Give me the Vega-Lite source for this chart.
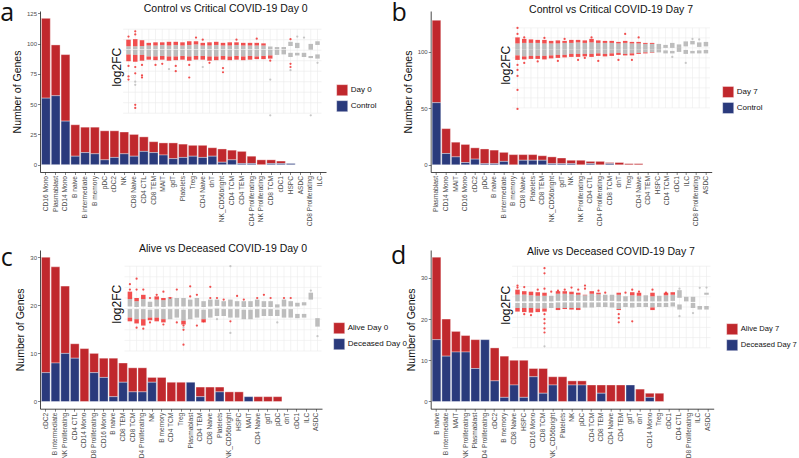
{
"$schema":"https://vega.github.io/schema/vega-lite/v6.json",
"background":"white",
"padding":{"left":0,"top":1,"right":0,"bottom":0},
"bounds":"flush",
"columns":2,
"spacing":{"row":78,"column":104.7},
"resolve":{"scale":{"color":"independent","x":"independent","y":"independent"},"legend":{"color":"independent"}},
"datasets":{
"hg":[{"v":-6},{"v":-5},{"v":-4},{"v":-3},{"v":-2},{"v":-1},{"v":0},{"v":1},{"v":2}],
"ba":[{"cell":"CD16 Mono","g":"Day 0","n":66},{"cell":"CD16 Mono","g":"Control","n":55},{"cell":"Plasmablast","g":"Day 0","n":42},{"cell":"Plasmablast","g":"Control","n":57},{"cell":"CD14 Mono","g":"Day 0","n":55},{"cell":"CD14 Mono","g":"Control","n":36},{"cell":"B naive","g":"Day 0","n":26},{"cell":"B naive","g":"Control","n":7},{"cell":"B intermediate","g":"Day 0","n":21},{"cell":"B intermediate","g":"Control","n":10},{"cell":"B memory","g":"Day 0","n":22},{"cell":"B memory","g":"Control","n":9},{"cell":"pDC","g":"Day 0","n":24},{"cell":"pDC","g":"Control","n":4},{"cell":"cDC2","g":"Day 0","n":22},{"cell":"cDC2","g":"Control","n":6},{"cell":"NK","g":"Day 0","n":18},{"cell":"NK","g":"Control","n":9},{"cell":"CD8 Naive","g":"Day 0","n":18},{"cell":"CD8 Naive","g":"Control","n":7},{"cell":"CD4 CTL","g":"Day 0","n":12},{"cell":"CD4 CTL","g":"Control","n":11},{"cell":"CD8 TEM","g":"Day 0","n":9},{"cell":"CD8 TEM","g":"Control","n":10},{"cell":"MAIT","g":"Day 0","n":10},{"cell":"MAIT","g":"Control","n":8},{"cell":"gdT","g":"Day 0","n":13},{"cell":"gdT","g":"Control","n":5},{"cell":"Platelets","g":"Day 0","n":11},{"cell":"Platelets","g":"Control","n":6},{"cell":"Treg","g":"Day 0","n":9},{"cell":"Treg","g":"Control","n":7},{"cell":"CD4 Naive","g":"Day 0","n":10},{"cell":"CD4 Naive","g":"Control","n":6},{"cell":"dnT","g":"Day 0","n":7},{"cell":"dnT","g":"Control","n":7},{"cell":"NK_CD56bright","g":"Day 0","n":11},{"cell":"NK_CD56bright","g":"Control","n":2},{"cell":"CD4 TCM","g":"Day 0","n":8},{"cell":"CD4 TCM","g":"Control","n":4},{"cell":"CD4 TEM","g":"Day 0","n":10},{"cell":"CD4 TEM","g":"Control","n":1},{"cell":"CD4 Proliferating","g":"Day 0","n":6},{"cell":"CD4 Proliferating","g":"Control","n":1},{"cell":"NK Proliferating","g":"Day 0","n":4},{"cell":"CD8 TCM","g":"Day 0","n":3},{"cell":"CD8 TCM","g":"Control","n":1},{"cell":"cDC1","g":"Day 0","n":2},{"cell":"cDC1","g":"Control","n":1},{"cell":"HSPC","g":"Control","n":1}],
"bb":[{"cell":"Plasmablast","g":"Day 7","n":73},{"cell":"Plasmablast","g":"Control","n":55},{"cell":"CD14 Mono","g":"Day 7","n":22},{"cell":"CD14 Mono","g":"Control","n":10},{"cell":"MAIT","g":"Day 7","n":13},{"cell":"MAIT","g":"Control","n":7},{"cell":"CD16 Mono","g":"Day 7","n":16},{"cell":"CD16 Mono","g":"Control","n":2},{"cell":"cDC2","g":"Day 7","n":10},{"cell":"cDC2","g":"Control","n":5},{"cell":"pDC","g":"Day 7","n":13},{"cell":"pDC","g":"Control","n":1},{"cell":"B naive","g":"Day 7","n":12},{"cell":"B naive","g":"Control","n":1},{"cell":"B intermediate","g":"Day 7","n":8},{"cell":"B intermediate","g":"Control","n":3},{"cell":"B memory","g":"Day 7","n":9},{"cell":"CD8 Naive","g":"Day 7","n":5},{"cell":"CD8 Naive","g":"Control","n":4},{"cell":"Platelets","g":"Day 7","n":5},{"cell":"Platelets","g":"Control","n":4},{"cell":"CD8 TEM","g":"Day 7","n":4},{"cell":"CD8 TEM","g":"Control","n":4},{"cell":"NK_CD56bright","g":"Day 7","n":6},{"cell":"NK_CD56bright","g":"Control","n":1},{"cell":"gdT","g":"Day 7","n":5},{"cell":"gdT","g":"Control","n":1},{"cell":"NK","g":"Day 7","n":3},{"cell":"NK","g":"Control","n":1},{"cell":"NK Proliferating","g":"Day 7","n":4},{"cell":"CD4 CTL","g":"Day 7","n":2},{"cell":"CD4 CTL","g":"Control","n":1},{"cell":"CD4 Proliferating","g":"Day 7","n":3},{"cell":"CD8 TCM","g":"Day 7","n":1},{"cell":"CD8 TCM","g":"Control","n":1},{"cell":"dnT","g":"Day 7","n":2},{"cell":"Treg","g":"Day 7","n":1},{"cell":"CD4 Naive","g":"Day 7","n":1}],
"bc":[{"cell":"cDC2","g":"Alive Day 0","n":24},{"cell":"cDC2","g":"Deceased Day 0","n":6},{"cell":"B intermediate","g":"Alive Day 0","n":20},{"cell":"B intermediate","g":"Deceased Day 0","n":8},{"cell":"NK Proliferating","g":"Alive Day 0","n":14},{"cell":"NK Proliferating","g":"Deceased Day 0","n":10},{"cell":"CD4 CTL","g":"Alive Day 0","n":3},{"cell":"CD4 CTL","g":"Deceased Day 0","n":9},{"cell":"CD14 Mono","g":"Alive Day 0","n":11},{"cell":"CD8 Proliferating","g":"Alive Day 0","n":4},{"cell":"CD8 Proliferating","g":"Deceased Day 0","n":6},{"cell":"CD16 Mono","g":"Alive Day 0","n":4},{"cell":"CD16 Mono","g":"Deceased Day 0","n":5},{"cell":"B naive","g":"Alive Day 0","n":8},{"cell":"B naive","g":"Deceased Day 0","n":1},{"cell":"CD8 TEM","g":"Alive Day 0","n":4},{"cell":"CD8 TEM","g":"Deceased Day 0","n":4},{"cell":"CD8 TCM","g":"Alive Day 0","n":5},{"cell":"CD8 TCM","g":"Deceased Day 0","n":2},{"cell":"CD4 Proliferating","g":"Alive Day 0","n":5},{"cell":"CD4 Proliferating","g":"Deceased Day 0","n":2},{"cell":"NK","g":"Alive Day 0","n":1},{"cell":"NK","g":"Deceased Day 0","n":4},{"cell":"B memory","g":"Alive Day 0","n":5},{"cell":"CD4 TCM","g":"Alive Day 0","n":4},{"cell":"Treg","g":"Alive Day 0","n":4},{"cell":"Plasmablast","g":"Deceased Day 0","n":4},{"cell":"CD4 TEM","g":"Alive Day 0","n":2},{"cell":"CD4 TEM","g":"Deceased Day 0","n":1},{"cell":"CD8 Naive","g":"Alive Day 0","n":3},{"cell":"Platelets","g":"Alive Day 0","n":1},{"cell":"Platelets","g":"Deceased Day 0","n":2},{"cell":"NK_CD56bright","g":"Alive Day 0","n":2},{"cell":"HSPC","g":"Alive Day 0","n":2},{"cell":"MAIT","g":"Deceased Day 0","n":1},{"cell":"CD4 Naive","g":"Alive Day 0","n":1},{"cell":"gdT","g":"Alive Day 0","n":1},{"cell":"pDC","g":"Alive Day 0","n":1}],
"bd":[{"cell":"B naive","g":"Alive Day 7","n":20},{"cell":"B naive","g":"Deceased Day 7","n":15},{"cell":"B intermediate","g":"Alive Day 7","n":9},{"cell":"B intermediate","g":"Deceased Day 7","n":11},{"cell":"MAIT","g":"Alive Day 7","n":5},{"cell":"MAIT","g":"Deceased Day 7","n":12},{"cell":"NK Proliferating","g":"Alive Day 7","n":4},{"cell":"NK Proliferating","g":"Deceased Day 7","n":12},{"cell":"Plasmablast","g":"Alive Day 7","n":7},{"cell":"Plasmablast","g":"Deceased Day 7","n":8},{"cell":"CD4 Proliferating","g":"Deceased Day 7","n":15},{"cell":"cDC2","g":"Alive Day 7","n":8},{"cell":"cDC2","g":"Deceased Day 7","n":5},{"cell":"B memory","g":"Alive Day 7","n":10},{"cell":"B memory","g":"Deceased Day 7","n":1},{"cell":"CD8 Naive","g":"Alive Day 7","n":6},{"cell":"CD8 Naive","g":"Deceased Day 7","n":4},{"cell":"HSPC","g":"Alive Day 7","n":9},{"cell":"HSPC","g":"Deceased Day 7","n":1},{"cell":"CD16 Mono","g":"Alive Day 7","n":2},{"cell":"CD16 Mono","g":"Deceased Day 7","n":6},{"cell":"CD8 TCM","g":"Alive Day 7","n":6},{"cell":"CD8 TCM","g":"Deceased Day 7","n":2},{"cell":"NK_CD56bright","g":"Alive Day 7","n":2},{"cell":"NK_CD56bright","g":"Deceased Day 7","n":4},{"cell":"Platelets","g":"Alive Day 7","n":6},{"cell":"NK","g":"Alive Day 7","n":1},{"cell":"NK","g":"Deceased Day 7","n":4},{"cell":"pDC","g":"Alive Day 7","n":1},{"cell":"pDC","g":"Deceased Day 7","n":4},{"cell":"CD4 TCM","g":"Alive Day 7","n":4},{"cell":"CD8 TEM","g":"Alive Day 7","n":2},{"cell":"CD8 TEM","g":"Deceased Day 7","n":2},{"cell":"CD4 Naive","g":"Alive Day 7","n":4},{"cell":"CD4 TEM","g":"Alive Day 7","n":4},{"cell":"gdT","g":"Deceased Day 7","n":4},{"cell":"dnT","g":"Alive Day 7","n":3},{"cell":"CD14 Mono","g":"Alive Day 7","n":1},{"cell":"CD14 Mono","g":"Deceased Day 7","n":1},{"cell":"Treg","g":"Alive Day 7","n":2}],
"ia":[{"c":0,"gt":0.38,"gm":0.08,"gn":0.02,"gb":-0.41,"rt":1.0,"rb":-1.05},{"c":1,"gt":0.38,"gm":0.08,"gn":0.02,"gb":-0.45,"rt":1.05,"rb":-1.1},{"c":2,"gt":0.4,"gm":0.08,"gn":0.02,"gb":-0.45,"rt":0.95,"rb":-1.0},{"c":3,"gt":0.45,"gm":0.08,"gn":0.02,"gb":-0.6,"rt":0.7,"rb":-0.9},{"c":4,"gt":0.45,"gm":0.08,"gn":0.02,"gb":-0.6,"rt":0.75,"rb":-0.95},{"c":5,"gt":0.5,"gm":0.08,"gn":0.02,"gb":-0.55,"rt":0.75,"rb":-0.9},{"c":6,"gt":0.45,"gm":0.08,"gn":0.02,"gb":-0.6,"rt":0.8,"rb":-1.0},{"c":7,"gt":0.5,"gm":0.08,"gn":0.02,"gb":-0.6,"rt":0.8,"rb":-0.95},{"c":8,"gt":0.45,"gm":0.08,"gn":0.02,"gb":-0.55,"rt":0.75,"rb":-0.9},{"c":9,"gt":0.5,"gm":0.08,"gn":0.02,"gb":-0.6,"rt":0.85,"rb":-1.0},{"c":10,"gt":0.55,"gm":0.08,"gn":0.02,"gb":-0.55,"rt":0.85,"rb":-0.9},{"c":11,"gt":0.45,"gm":0.08,"gn":0.02,"gb":-0.55,"rt":0.7,"rb":-0.9},{"c":12,"gt":0.45,"gm":0.08,"gn":0.02,"gb":-0.6,"rt":0.75,"rb":-1.0},{"c":13,"gt":0.5,"gm":0.08,"gn":0.02,"gb":-0.6,"rt":0.8,"rb":-0.95},{"c":14,"gt":0.45,"gm":0.08,"gn":0.02,"gb":-0.55,"rt":0.7,"rb":-0.9},{"c":15,"gt":0.45,"gm":0.08,"gn":0.02,"gb":-0.6,"rt":0.75,"rb":-0.95},{"c":16,"gt":0.5,"gm":0.08,"gn":0.02,"gb":-0.55,"rt":0.75,"rb":-0.9},{"c":17,"gt":0.45,"gm":0.08,"gn":0.02,"gb":-0.6,"rt":0.7,"rb":-0.95},{"c":18,"gt":0.45,"gm":0.08,"gn":0.02,"gb":-0.55,"rt":0.7,"rb":-0.9},{"c":19,"gt":0.45,"gm":0.08,"gn":0.02,"gb":-0.6,"rt":0.7,"rb":-0.85},{"c":20,"gt":0.45,"gm":0.08,"gn":0.02,"gb":-0.55,"rt":0.65,"rb":-0.85},{"c":21,"gt":0.35,"gm":0.08,"gn":0.02,"gb":-0.5,"rt":0.35,"rb":-0.8},{"c":22,"gt":0.3,"gm":0.08,"gn":0.02,"gb":-0.45,"rt":0.3,"rb":-0.45},{"c":23,"gt":0.3,"gm":0.08,"gn":0.02,"gb":-0.4,"rt":0.3,"rb":-0.4},{"c":24,"gt":0.8,"gm":0.4,"gn":-0.25,"gb":-0.65,"rt":0.8,"rb":-0.65},{"c":25,"gt":0.7,"gm":0.2,"gn":-0.25,"gb":-0.5,"rt":0.7,"rb":-0.5},{"c":26,"gt":-0.25,"gm":-0.25,"gn":-0.25,"gb":-0.65,"rt":-0.25,"rb":-0.65},{"c":27,"gt":0.6,"gm":0.05,"gn":-0.55,"gb":-0.75,"rt":0.6,"rb":-0.75},{"c":28,"gt":0.85,"gm":0.5,"gn":-0.4,"gb":-0.8,"rt":0.85,"rb":-0.8}],
"ib":[{"c":0,"gt":0.45,"gm":-0.16,"gn":-0.16,"gb":-0.75,"rt":1.05,"rb":-1.2},{"c":1,"gt":0.5,"gm":-0.16,"gn":-0.16,"gb":-0.85,"rt":0.9,"rb":-1.15},{"c":2,"gt":0.5,"gm":-0.16,"gn":-0.16,"gb":-0.8,"rt":0.85,"rb":-1.1},{"c":3,"gt":0.5,"gm":-0.16,"gn":-0.16,"gb":-0.8,"rt":0.8,"rb":-1.1},{"c":4,"gt":0.45,"gm":-0.16,"gn":-0.16,"gb":-0.8,"rt":0.8,"rb":-1.15},{"c":5,"gt":0.45,"gm":-0.16,"gn":-0.16,"gb":-0.75,"rt":0.7,"rb":-1.05},{"c":6,"gt":0.45,"gm":-0.16,"gn":-0.16,"gb":-0.7,"rt":0.75,"rb":-1.0},{"c":7,"gt":0.5,"gm":-0.16,"gn":-0.16,"gb":-0.7,"rt":0.7,"rb":-0.95},{"c":8,"gt":0.5,"gm":-0.16,"gn":-0.16,"gb":-0.6,"rt":0.8,"rb":-0.9},{"c":9,"gt":0.55,"gm":-0.16,"gn":-0.16,"gb":-0.6,"rt":0.8,"rb":-0.9},{"c":10,"gt":0.5,"gm":-0.16,"gn":-0.16,"gb":-0.6,"rt":0.75,"rb":-0.85},{"c":11,"gt":0.55,"gm":-0.16,"gn":-0.16,"gb":-0.6,"rt":0.9,"rb":-0.9},{"c":12,"gt":0.5,"gm":-0.16,"gn":-0.16,"gb":-0.55,"rt":0.75,"rb":-0.8},{"c":13,"gt":0.5,"gm":-0.16,"gn":-0.16,"gb":-0.6,"rt":0.7,"rb":-0.85},{"c":14,"gt":0.5,"gm":-0.16,"gn":-0.16,"gb":-0.55,"rt":0.7,"rb":-0.8},{"c":15,"gt":0.45,"gm":-0.16,"gn":-0.16,"gb":-0.5,"rt":0.6,"rb":-0.7},{"c":16,"gt":0.5,"gm":-0.16,"gn":-0.16,"gb":-0.6,"rt":0.7,"rb":-0.75},{"c":17,"gt":0.45,"gm":-0.16,"gn":-0.16,"gb":-0.55,"rt":0.6,"rb":-0.75},{"c":18,"gt":0.45,"gm":-0.16,"gn":-0.16,"gb":-0.5,"rt":0.6,"rb":-0.6},{"c":19,"gt":0.4,"gm":-0.16,"gn":-0.16,"gb":-0.45,"rt":0.5,"rb":-0.55},{"c":20,"gt":0.4,"gm":-0.16,"gn":-0.16,"gb":-0.45,"rt":0.5,"rb":-0.5},{"c":21,"gt":0.4,"gm":-0.16,"gn":-0.16,"gb":-0.45,"rt":0.4,"rb":-0.45},{"c":22,"gt":0.3,"gm":0.0,"gn":-0.25,"gb":-0.55,"rt":0.3,"rb":-0.55},{"c":23,"gt":0.5,"gm":0.0,"gn":-0.3,"gb":-0.55,"rt":0.5,"rb":-0.55},{"c":24,"gt":0.35,"gm":0.0,"gn":0.0,"gb":-0.4,"rt":0.35,"rb":-0.4},{"c":25,"gt":0.65,"gm":0.15,"gn":-0.2,"gb":-0.6,"rt":0.65,"rb":-0.6},{"c":26,"gt":0.7,"gm":0.35,"gn":-0.3,"gb":-0.55,"rt":0.7,"rb":-0.55},{"c":27,"gt":0.55,"gm":0.1,"gn":-0.25,"gb":-0.55,"rt":0.55,"rb":-0.55},{"c":28,"gt":0.6,"gm":0.15,"gn":-0.2,"gb":-0.55,"rt":0.6,"rb":-0.55}],
"ic":[{"c":0,"gt":-1.1,"gm":-1.8,"gn":-2.05,"gb":-2.85,"rt":-0.4,"rb":-3.2},{"c":1,"gt":-1.3,"gm":-1.85,"gn":-2.05,"gb":-3.0,"rt":-1.0,"rb":-3.4},{"c":2,"gt":-1.1,"gm":-1.8,"gn":-2.05,"gb":-3.0,"rt":-0.7,"rb":-3.6},{"c":3,"gt":-1.35,"gm":-1.85,"gn":-2.1,"gb":-2.85,"rt":-1.35,"rb":-3.1},{"c":4,"gt":-1.15,"gm":-1.8,"gn":-2.05,"gb":-2.85,"rt":-0.85,"rb":-3.2},{"c":5,"gt":-1.2,"gm":-1.85,"gn":-2.05,"gb":-3.0,"rt":-1.0,"rb":-3.3},{"c":6,"gt":-1.0,"gm":-1.8,"gn":-2.05,"gb":-3.0,"rt":-0.95,"rb":-3.0},{"c":7,"gt":-1.0,"gm":-1.8,"gn":-2.05,"gb":-2.85,"rt":-1.0,"rb":-2.85},{"c":8,"gt":-1.0,"gm":-1.8,"gn":-2.1,"gb":-3.15,"rt":-1.0,"rb":-3.5},{"c":9,"gt":-1.15,"gm":-1.8,"gn":-2.05,"gb":-3.0,"rt":-1.15,"rb":-3.0},{"c":10,"gt":-1.0,"gm":-1.8,"gn":-2.05,"gb":-2.85,"rt":-1.0,"rb":-2.85},{"c":11,"gt":-1.3,"gm":-1.85,"gn":-2.1,"gb":-3.0,"rt":-1.3,"rb":-3.3},{"c":12,"gt":-1.15,"gm":-1.8,"gn":-2.05,"gb":-2.85,"rt":-1.15,"rb":-2.85},{"c":13,"gt":-1.15,"gm":-1.75,"gn":-2.0,"gb":-2.7,"rt":-1.15,"rb":-2.7},{"c":14,"gt":-1.3,"gm":-1.8,"gn":-2.05,"gb":-2.7,"rt":-1.3,"rb":-2.7},{"c":15,"gt":-1.15,"gm":-1.8,"gn":-2.05,"gb":-2.85,"rt":-1.15,"rb":-2.85},{"c":16,"gt":-1.3,"gm":-1.8,"gn":-2.05,"gb":-2.85,"rt":-1.3,"rb":-2.85},{"c":17,"gt":-1.3,"gm":-1.85,"gn":-2.1,"gb":-3.0,"rt":-1.3,"rb":-3.0},{"c":18,"gt":-1.3,"gm":-1.85,"gn":-2.1,"gb":-3.0,"rt":-1.3,"rb":-3.0},{"c":19,"gt":-1.15,"gm":-1.8,"gn":-2.05,"gb":-2.85,"rt":-1.15,"rb":-2.85},{"c":20,"gt":-1.3,"gm":-1.85,"gn":-2.05,"gb":-2.7,"rt":-1.3,"rb":-2.7},{"c":21,"gt":-1.3,"gm":-1.85,"gn":-2.05,"gb":-2.7,"rt":-1.3,"rb":-2.7},{"c":22,"gt":-1.6,"gm":-1.9,"gn":-2.1,"gb":-2.7,"rt":-1.6,"rb":-2.7},{"c":23,"gt":-1.15,"gm":-1.8,"gn":-2.05,"gb":-2.85,"rt":-1.15,"rb":-2.85},{"c":24,"gt":-1.3,"gm":-1.8,"gn":-2.05,"gb":-2.85,"rt":-1.3,"rb":-2.85},{"c":25,"gt":-1.45,"gm":-1.8,"gn":-2.5,"gb":-2.9,"rt":-1.45,"rb":-2.9},{"c":26,"gt":-1.4,"gm":-1.7,"gn":-2.5,"gb":-2.85,"rt":-1.4,"rb":-2.85},{"c":27,"gt":-0.5,"gm":-1.15,"gn":-1.15,"gb":-1.15,"rt":-0.5,"rb":-1.15},{"c":28,"gt":-2.9,"gm":-2.9,"gn":-2.9,"gb":-3.7,"rt":-2.9,"rb":-3.7}],
"id":[{"c":0,"gt":-0.78,"gm":-1.45,"gn":-1.6,"gb":-2.1,"rt":-0.3,"rb":-2.45},{"c":1,"gt":-0.78,"gm":-1.45,"gn":-1.6,"gb":-2.1,"rt":-0.45,"rb":-2.5},{"c":2,"gt":-0.85,"gm":-1.45,"gn":-1.6,"gb":-2.1,"rt":-0.5,"rb":-2.55},{"c":3,"gt":-0.9,"gm":-1.45,"gn":-1.6,"gb":-2.15,"rt":-0.55,"rb":-2.5},{"c":4,"gt":-0.9,"gm":-1.45,"gn":-1.6,"gb":-2.15,"rt":-0.6,"rb":-2.45},{"c":5,"gt":-0.9,"gm":-1.45,"gn":-1.6,"gb":-2.1,"rt":-0.9,"rb":-2.1},{"c":6,"gt":-0.7,"gm":-1.4,"gn":-1.55,"gb":-2.1,"rt":-0.45,"rb":-2.3},{"c":7,"gt":-0.7,"gm":-1.4,"gn":-1.55,"gb":-2.1,"rt":-0.45,"rb":-2.2},{"c":8,"gt":-0.75,"gm":-1.4,"gn":-1.55,"gb":-2.1,"rt":-0.5,"rb":-2.25},{"c":9,"gt":-0.8,"gm":-1.4,"gn":-1.55,"gb":-2.1,"rt":-0.6,"rb":-2.3},{"c":10,"gt":-0.85,"gm":-1.4,"gn":-1.55,"gb":-2.05,"rt":-0.8,"rb":-2.05},{"c":11,"gt":-0.7,"gm":-1.4,"gn":-1.55,"gb":-2.05,"rt":-0.45,"rb":-2.05},{"c":12,"gt":-0.75,"gm":-1.4,"gn":-1.55,"gb":-2.0,"rt":-0.6,"rb":-2.0},{"c":13,"gt":-0.8,"gm":-1.4,"gn":-1.55,"gb":-2.0,"rt":-0.8,"rb":-2.0},{"c":14,"gt":-0.8,"gm":-1.4,"gn":-1.55,"gb":-2.05,"rt":-0.8,"rb":-2.05},{"c":15,"gt":-0.8,"gm":-1.45,"gn":-1.6,"gb":-2.2,"rt":-0.6,"rb":-2.3},{"c":16,"gt":-0.95,"gm":-1.45,"gn":-1.6,"gb":-2.0,"rt":-0.95,"rb":-2.0},{"c":17,"gt":-0.85,"gm":-1.45,"gn":-1.6,"gb":-2.05,"rt":-0.55,"rb":-2.05},{"c":18,"gt":-0.9,"gm":-1.45,"gn":-1.6,"gb":-2.0,"rt":-0.6,"rb":-2.0},{"c":19,"gt":-0.85,"gm":-1.45,"gn":-1.6,"gb":-2.0,"rt":-0.85,"rb":-2.0},{"c":20,"gt":-0.95,"gm":-1.45,"gn":-1.6,"gb":-2.05,"rt":-0.6,"rb":-2.3},{"c":21,"gt":-0.9,"gm":-1.45,"gn":-1.6,"gb":-2.0,"rt":-0.9,"rb":-2.0},{"c":22,"gt":-0.85,"gm":-1.45,"gn":-1.6,"gb":-2.0,"rt":-0.6,"rb":-2.0},{"c":23,"gt":-0.8,"gm":-1.4,"gn":-1.55,"gb":-1.95,"rt":-0.55,"rb":-1.95},{"c":24,"gt":-0.35,"gm":-1.1,"gn":-1.75,"gb":-2.25,"rt":-0.35,"rb":-2.25},{"c":25,"gt":-1.0,"gm":-1.45,"gn":-1.45,"gb":-1.45,"rt":-1.0,"rb":-1.45},{"c":26,"gt":-1.0,"gm":-1.5,"gn":-1.6,"gb":-2.1,"rt":-1.0,"rb":-2.1},{"c":27,"gt":-0.2,"gm":-0.2,"gn":-1.9,"gb":-2.25,"rt":-0.2,"rb":-2.25},{"c":28,"gt":-0.6,"gm":-0.8,"gn":-1.9,"gb":-2.25,"rt":-0.6,"rb":-2.25}],
"oa":[{"c":0,"v":-1.5,"s":"sig"},{"c":0,"v":-2.5,"s":"sig"},{"c":0,"v":-2.8,"s":"sig"},{"c":0,"v":1.3,"s":"sig"},{"c":1,"v":1.8,"s":"sig"},{"c":1,"v":1.5,"s":"sig"},{"c":1,"v":-1.6,"s":"sig"},{"c":1,"v":-2.2,"s":"sig"},{"c":1,"v":-5.2,"s":"sig"},{"c":1,"v":-5.5,"s":"sig"},{"c":2,"v":-1.4,"s":"sig"},{"c":2,"v":-2.4,"s":"sig"},{"c":2,"v":-2.6,"s":"sig"},{"c":4,"v":-1.4,"s":"sig"},{"c":5,"v":-1.3,"s":"sig"},{"c":7,"v":-1.5,"s":"sig"},{"c":7,"v":-2.0,"s":"sig"},{"c":9,"v":-1.4,"s":"sig"},{"c":9,"v":-2.6,"s":"sig"},{"c":10,"v":1.2,"s":"sig"},{"c":11,"v":1.0,"s":"sig"},{"c":12,"v":-1.2,"s":"sig"},{"c":14,"v":-1.7,"s":"sig"},{"c":14,"v":-2.1,"s":"sig"},{"c":16,"v":1.0,"s":"sig"},{"c":19,"v":1.1,"s":"sig"},{"c":24,"v":1.05,"s":"sig"},{"c":24,"v":-1.3,"s":"sig"},{"c":24,"v":-1.6,"s":"sig"},{"c":21,"v":-1.0,"s":"sig"},{"c":1,"v":-3.3,"s":"ns"},{"c":1,"v":-3.0,"s":"ns"},{"c":6,"v":-1.8,"s":"ns"},{"c":11,"v":-1.6,"s":"ns"},{"c":21,"v":-2.8,"s":"ns"},{"c":21,"v":-6.2,"s":"ns"},{"c":24,"v":-1.9,"s":"ns"},{"c":25,"v":1.3,"s":"ns"},{"c":26,"v":1.2,"s":"ns"},{"c":27,"v":-6.2,"s":"ns"},{"c":28,"v":-1.2,"s":"ns"}],
"ob":[{"c":0,"v":2.0,"s":"sig"},{"c":0,"v":1.4,"s":"sig"},{"c":0,"v":-1.7,"s":"sig"},{"c":0,"v":-2.2,"s":"sig"},{"c":0,"v":-2.8,"s":"sig"},{"c":0,"v":-4.2,"s":"sig"},{"c":0,"v":-6.1,"s":"sig"},{"c":1,"v":1.05,"s":"sig"},{"c":1,"v":-1.5,"s":"sig"},{"c":3,"v":-1.35,"s":"sig"},{"c":4,"v":1.0,"s":"sig"},{"c":6,"v":-1.3,"s":"sig"},{"c":7,"v":0.9,"s":"sig"},{"c":9,"v":-1.2,"s":"sig"},{"c":10,"v":-1.0,"s":"sig"},{"c":11,"v":1.05,"s":"sig"},{"c":12,"v":-1.3,"s":"sig"},{"c":15,"v":-1.2,"s":"sig"},{"c":16,"v":1.4,"s":"sig"},{"c":17,"v":-1.2,"s":"sig"},{"c":18,"v":1.05,"s":"sig"},{"c":25,"v":-1.5,"s":"ns"},{"c":26,"v":0.9,"s":"ns"},{"c":23,"v":-0.9,"s":"ns"},{"c":27,"v":0.85,"s":"ns"}],
"oc":[{"c":0,"v":0.3,"s":"sig"},{"c":0,"v":-0.2,"s":"sig"},{"c":1,"v":0.82,"s":"sig"},{"c":1,"v":-0.2,"s":"sig"},{"c":1,"v":-3.8,"s":"sig"},{"c":2,"v":-0.2,"s":"sig"},{"c":2,"v":-3.9,"s":"sig"},{"c":3,"v":-1.0,"s":"sig"},{"c":3,"v":-3.3,"s":"sig"},{"c":4,"v":-0.7,"s":"sig"},{"c":5,"v":-0.4,"s":"sig"},{"c":5,"v":-3.5,"s":"sig"},{"c":6,"v":-1.0,"s":"sig"},{"c":7,"v":-0.2,"s":"sig"},{"c":7,"v":-3.3,"s":"sig"},{"c":8,"v":-3.6,"s":"sig"},{"c":8,"v":-4.0,"s":"sig"},{"c":8,"v":-5.4,"s":"sig"},{"c":9,"v":0.1,"s":"sig"},{"c":9,"v":-0.85,"s":"sig"},{"c":10,"v":-0.7,"s":"sig"},{"c":10,"v":-3.6,"s":"sig"},{"c":11,"v":-3.2,"s":"sig"},{"c":12,"v":0.05,"s":"sig"},{"c":12,"v":-1.0,"s":"sig"},{"c":13,"v":-1.0,"s":"sig"},{"c":14,"v":-1.15,"s":"sig"},{"c":15,"v":-3.2,"s":"sig"},{"c":16,"v":-0.8,"s":"sig"},{"c":17,"v":-1.15,"s":"sig"},{"c":19,"v":-1.0,"s":"sig"},{"c":20,"v":-0.7,"s":"sig"},{"c":21,"v":-1.0,"s":"sig"},{"c":23,"v":-1.0,"s":"sig"},{"c":24,"v":-1.0,"s":"sig"},{"c":15,"v":2.0,"s":"ns"},{"c":15,"v":-4.3,"s":"ns"},{"c":8,"v":-3.8,"s":"ns"},{"c":22,"v":-3.3,"s":"ns"},{"c":27,"v":-0.3,"s":"ns"},{"c":28,"v":-4.6,"s":"ns"},{"c":13,"v":-3.0,"s":"ns"}],
"od":[{"c":0,"v":0.1,"s":"sig"},{"c":0,"v":-0.1,"s":"sig"},{"c":1,"v":-0.05,"s":"sig"},{"c":1,"v":-2.7,"s":"sig"},{"c":2,"v":-2.8,"s":"sig"},{"c":3,"v":-0.3,"s":"sig"},{"c":4,"v":1.8,"s":"sig"},{"c":4,"v":1.3,"s":"sig"},{"c":4,"v":-0.2,"s":"sig"},{"c":4,"v":-2.7,"s":"sig"},{"c":4,"v":-3.2,"s":"sig"},{"c":4,"v":-3.6,"s":"sig"},{"c":4,"v":-4.1,"s":"sig"},{"c":4,"v":-4.5,"s":"sig"},{"c":5,"v":-0.5,"s":"sig"},{"c":6,"v":-0.4,"s":"sig"},{"c":7,"v":-0.3,"s":"sig"},{"c":8,"v":-0.1,"s":"sig"},{"c":9,"v":-0.3,"s":"sig"},{"c":10,"v":0.1,"s":"sig"},{"c":10,"v":-0.2,"s":"sig"},{"c":12,"v":-0.4,"s":"sig"},{"c":13,"v":-0.6,"s":"sig"},{"c":15,"v":-2.7,"s":"sig"},{"c":15,"v":-3.1,"s":"sig"},{"c":15,"v":-3.5,"s":"sig"},{"c":16,"v":-0.6,"s":"sig"},{"c":17,"v":-0.3,"s":"sig"},{"c":17,"v":-3.4,"s":"sig"},{"c":18,"v":-0.5,"s":"sig"},{"c":20,"v":-0.3,"s":"sig"},{"c":22,"v":-0.6,"s":"sig"},{"c":4,"v":-5.85,"s":"ns"},{"c":24,"v":-0.2,"s":"ns"},{"c":24,"v":-2.9,"s":"ns"},{"c":26,"v":-2.6,"s":"ns"},{"c":27,"v":-0.12,"s":"ns"},{"c":28,"v":-0.1,"s":"ns"}]
},
"concat":[
{"width":286,"height":161,"resolve":{"scale":{"x":"independent","y":"independent","color":"independent"}},
"layer":[
{"data":{"name":"ba"},"mark":{"type":"bar","stroke":"white","strokeWidth":0.5,"strokeOpacity":0.7},
"encoding":{
"x":{"field":"cell","type":"nominal","title":null,"scale":{"domain":["CD16 Mono","Plasmablast","CD14 Mono","B naive","B intermediate","B memory","pDC","cDC2","NK","CD8 Naive","CD4 CTL","CD8 TEM","MAIT","gdT","Platelets","Treg","CD4 Naive","dnT","NK_CD56bright","CD4 TCM","CD4 TEM","CD4 Proliferating","NK Proliferating","CD8 TCM","cDC1","HSPC","ASDC","CD8 Proliferating","ILC"],"paddingInner":0.1,"paddingOuter":0.15}},
"y":{"field":"n","type":"quantitative","stack":"zero","title":"Number of Genes","scale":{"domain":[-6.05,127.05],"nice":false,"zero":false},"axis":{"values":[0,25,50,75,100,125]}},
"color":{"field":"g","type":"nominal","scale":{"domain":["Day 0","Control"],"range":["#c0282d","#2a3a7c"]},"legend":{"title":null,"orient":"none","legendX":296.2,"legendY":73.2}},
"order":{"field":"g","sort":"ascending"}}},
{"layer":[
{"data":{"name":"ia"},"mark":{"type":"rule","color":"#ebebeb","strokeWidth":0.6},"encoding":{"x":{"field":"c","type":"quantitative","scale":{"domain":[-13.111,29.259],"nice":false,"zero":false},"axis":null},"y":{"datum":-6,"type":"quantitative","scale":{"domain":[-11.6,3.733],"nice":false,"zero":false},"axis":null},"y2":{"datum":2}}},
{"data":{"name":"hg"},"mark":{"type":"rule","color":"#ebebeb","strokeWidth":0.6},"encoding":{"y":{"field":"v","type":"quantitative","scale":{"domain":[-11.6,3.733],"nice":false,"zero":false},"axis":null},"x":{"datum":-0.8,"type":"quantitative","scale":{"domain":[-13.111,29.259],"nice":false,"zero":false},"axis":null},"x2":{"datum":28.6}}},
{"data":{"name":"ia"},"mark":{"type":"rule","color":"#bdbdbd","strokeWidth":4.5},"encoding":{"x":{"field":"c","type":"quantitative","scale":{"domain":[-13.111,29.259],"nice":false,"zero":false},"axis":null},"y":{"field":"gm","type":"quantitative","scale":{"domain":[-11.6,3.733],"nice":false,"zero":false},"axis":null},"y2":{"field":"gt"}}},
{"data":{"name":"ia"},"mark":{"type":"rule","color":"#bdbdbd","strokeWidth":4.5},"encoding":{"x":{"field":"c","type":"quantitative","scale":{"domain":[-13.111,29.259],"nice":false,"zero":false},"axis":null},"y":{"field":"gb","type":"quantitative","scale":{"domain":[-11.6,3.733],"nice":false,"zero":false},"axis":null},"y2":{"field":"gn"}}},
{"data":{"name":"ia"},"mark":{"type":"rule","color":"#f03030","opacity":0.85,"strokeWidth":4.5},"encoding":{"x":{"field":"c","type":"quantitative","scale":{"domain":[-13.111,29.259],"nice":false,"zero":false},"axis":null},"y":{"field":"gt","type":"quantitative","scale":{"domain":[-11.6,3.733],"nice":false,"zero":false},"axis":null},"y2":{"field":"rt"}}},
{"data":{"name":"ia"},"mark":{"type":"rule","color":"#f03030","opacity":0.85,"strokeWidth":4.5},"encoding":{"x":{"field":"c","type":"quantitative","scale":{"domain":[-13.111,29.259],"nice":false,"zero":false},"axis":null},"y":{"field":"rb","type":"quantitative","scale":{"domain":[-11.6,3.733],"nice":false,"zero":false},"axis":null},"y2":{"field":"gb"}}},
{"data":{"name":"oa"},"mark":{"type":"circle","size":5,"opacity":0.85},"encoding":{"x":{"field":"c","type":"quantitative","scale":{"domain":[-13.111,29.259],"nice":false,"zero":false},"axis":null},"y":{"field":"v","type":"quantitative","scale":{"domain":[-11.6,3.733],"nice":false,"zero":false},"axis":null},"color":{"field":"s","type":"nominal","scale":{"domain":["sig","ns"],"range":["#f03030","#bdbdbd"]},"legend":null}}},
{"data":{"values":[{"t":"Control vs Critical COVID-19 Day 0"}]},"mark":{"type":"text","fontSize":10.5,"color":"#111111","align":"center","baseline":"middle"},"encoding":{"x":{"datum":14.4,"type":"quantitative","scale":{"domain":[-13.111,29.259],"nice":false,"zero":false},"axis":null},"y":{"datum":3.876,"type":"quantitative","scale":{"domain":[-11.6,3.733],"nice":false,"zero":false},"axis":null},"text":{"field":"t"}}},
{"data":{"values":[{"t":"log2FC"}]},"mark":{"type":"text","fontSize":12,"angle":270,"color":"#111111","align":"center","baseline":"middle"},"encoding":{"x":{"datum":-1.75,"type":"quantitative","scale":{"domain":[-13.111,29.259],"nice":false,"zero":false},"axis":null},"y":{"datum":-1.62,"type":"quantitative","scale":{"domain":[-11.6,3.733],"nice":false,"zero":false},"axis":null},"text":{"field":"t"}}},
{"data":{"values":[{"t":"a"}]},"mark":{"type":"text","fontSize":25,"font":"Open Sans","color":"#111111","align":"center","baseline":"alphabetic"},"encoding":{"x":{"datum":-17.97,"type":"quantitative","scale":{"domain":[-13.111,29.259],"nice":false,"zero":false},"axis":null},"y":{"datum":2.76,"type":"quantitative","scale":{"domain":[-11.6,3.733],"nice":false,"zero":false},"axis":null},"text":{"field":"t"}}}
]}
]},
{"width":281,"height":161,"resolve":{"scale":{"x":"independent","y":"independent","color":"independent"}},
"layer":[
{"data":{"name":"bb"},"mark":{"type":"bar","stroke":"white","strokeWidth":0.5,"strokeOpacity":0.7},
"encoding":{
"x":{"field":"cell","type":"nominal","title":null,"scale":{"domain":["Plasmablast","CD14 Mono","MAIT","CD16 Mono","cDC2","pDC","B naive","B intermediate","B memory","CD8 Naive","Platelets","CD8 TEM","NK_CD56bright","gdT","NK","NK Proliferating","CD4 CTL","CD4 Proliferating","CD8 TCM","dnT","Treg","CD4 Naive","CD4 TEM","HSPC","CD4 TCM","cDC1","ILC","CD8 Proliferating","ASDC"],"paddingInner":0.1,"paddingOuter":0.15}},
"y":{"field":"n","type":"quantitative","stack":"zero","title":"Number of Genes","scale":{"domain":[-6.4,136.2],"nice":false,"zero":false},"axis":{"values":[0,50,100]}},
"color":{"field":"g","type":"nominal","scale":{"domain":["Day 7","Control"],"range":["#c0282d","#2a3a7c"]},"legend":{"title":null,"orient":"none","legendX":291.5,"legendY":75}},
"order":{"field":"g","sort":"ascending"}}},
{"layer":[
{"data":{"name":"ib"},"mark":{"type":"rule","color":"#ebebeb","strokeWidth":0.6},"encoding":{"x":{"field":"c","type":"quantitative","scale":{"domain":[-12.897,28.856],"nice":false,"zero":false},"axis":null},"y":{"datum":-6,"type":"quantitative","scale":{"domain":[-12.41,3.69],"nice":false,"zero":false},"axis":null},"y2":{"datum":2}}},
{"data":{"name":"hg"},"mark":{"type":"rule","color":"#ebebeb","strokeWidth":0.6},"encoding":{"y":{"field":"v","type":"quantitative","scale":{"domain":[-12.41,3.69],"nice":false,"zero":false},"axis":null},"x":{"datum":-0.8,"type":"quantitative","scale":{"domain":[-12.897,28.856],"nice":false,"zero":false},"axis":null},"x2":{"datum":28.6}}},
{"data":{"name":"ib"},"mark":{"type":"rule","color":"#bdbdbd","strokeWidth":4.5},"encoding":{"x":{"field":"c","type":"quantitative","scale":{"domain":[-12.897,28.856],"nice":false,"zero":false},"axis":null},"y":{"field":"gm","type":"quantitative","scale":{"domain":[-12.41,3.69],"nice":false,"zero":false},"axis":null},"y2":{"field":"gt"}}},
{"data":{"name":"ib"},"mark":{"type":"rule","color":"#bdbdbd","strokeWidth":4.5},"encoding":{"x":{"field":"c","type":"quantitative","scale":{"domain":[-12.897,28.856],"nice":false,"zero":false},"axis":null},"y":{"field":"gb","type":"quantitative","scale":{"domain":[-12.41,3.69],"nice":false,"zero":false},"axis":null},"y2":{"field":"gn"}}},
{"data":{"name":"ib"},"mark":{"type":"rule","color":"#f03030","opacity":0.85,"strokeWidth":4.5},"encoding":{"x":{"field":"c","type":"quantitative","scale":{"domain":[-12.897,28.856],"nice":false,"zero":false},"axis":null},"y":{"field":"gt","type":"quantitative","scale":{"domain":[-12.41,3.69],"nice":false,"zero":false},"axis":null},"y2":{"field":"rt"}}},
{"data":{"name":"ib"},"mark":{"type":"rule","color":"#f03030","opacity":0.85,"strokeWidth":4.5},"encoding":{"x":{"field":"c","type":"quantitative","scale":{"domain":[-12.897,28.856],"nice":false,"zero":false},"axis":null},"y":{"field":"rb","type":"quantitative","scale":{"domain":[-12.41,3.69],"nice":false,"zero":false},"axis":null},"y2":{"field":"gb"}}},
{"data":{"name":"ob"},"mark":{"type":"circle","size":5,"opacity":0.85},"encoding":{"x":{"field":"c","type":"quantitative","scale":{"domain":[-12.897,28.856],"nice":false,"zero":false},"axis":null},"y":{"field":"v","type":"quantitative","scale":{"domain":[-12.41,3.69],"nice":false,"zero":false},"axis":null},"color":{"field":"s","type":"nominal","scale":{"domain":["sig","ns"],"range":["#f03030","#bdbdbd"]},"legend":null}}},
{"data":{"values":[{"t":"Control vs Critical COVID-19 Day 7"}]},"mark":{"type":"text","fontSize":10.5,"color":"#111111","align":"center","baseline":"middle"},"encoding":{"x":{"datum":13.9,"type":"quantitative","scale":{"domain":[-12.897,28.856],"nice":false,"zero":false},"axis":null},"y":{"datum":3.84,"type":"quantitative","scale":{"domain":[-12.41,3.69],"nice":false,"zero":false},"axis":null},"text":{"field":"t"}}},
{"data":{"values":[{"t":"log2FC"}]},"mark":{"type":"text","fontSize":12,"angle":270,"color":"#111111","align":"center","baseline":"middle"},"encoding":{"x":{"datum":-1.68,"type":"quantitative","scale":{"domain":[-12.897,28.856],"nice":false,"zero":false},"axis":null},"y":{"datum":-1.73,"type":"quantitative","scale":{"domain":[-12.41,3.69],"nice":false,"zero":false},"axis":null},"text":{"field":"t"}}},
{"data":{"values":[{"t":"b"}]},"mark":{"type":"text","fontSize":25,"font":"Open Sans","color":"#111111","align":"center","baseline":"alphabetic"},"encoding":{"x":{"datum":-17.58,"type":"quantitative","scale":{"domain":[-12.897,28.856],"nice":false,"zero":false},"axis":null},"y":{"datum":2.67,"type":"quantitative","scale":{"domain":[-12.41,3.69],"nice":false,"zero":false},"axis":null},"text":{"field":"t"}}}
]}
]},
{"width":282,"height":158.7,"resolve":{"scale":{"x":"independent","y":"independent","color":"independent"}},
"layer":[
{"data":{"name":"bc"},"mark":{"type":"bar","stroke":"white","strokeWidth":0.5,"strokeOpacity":0.7},
"encoding":{
"x":{"field":"cell","type":"nominal","title":null,"scale":{"domain":["cDC2","B intermediate","NK Proliferating","CD4 CTL","CD14 Mono","CD8 Proliferating","CD16 Mono","B naive","CD8 TEM","CD8 TCM","CD4 Proliferating","NK","B memory","CD4 TCM","Treg","Plasmablast","CD4 TEM","CD8 Naive","Platelets","NK_CD56bright","HSPC","MAIT","CD4 Naive","gdT","pDC","dnT","cDC1","ILC","ASDC"],"paddingInner":0.1,"paddingOuter":0.15}},
"y":{"field":"n","type":"quantitative","stack":"zero","title":"Number of Genes","scale":{"domain":[-1.5,31.5],"nice":false,"zero":false},"axis":{"values":[0,10,20,30]}},
"color":{"field":"g","type":"nominal","scale":{"domain":["Alive Day 0","Deceased Day 0"],"range":["#c0282d","#2a3a7c"]},"legend":{"title":null,"orient":"none","legendX":293.2,"legendY":72.2}},
"order":{"field":"g","sort":"descending"}}},
{"layer":[
{"data":{"name":"ic"},"mark":{"type":"rule","color":"#ebebeb","strokeWidth":0.6},"encoding":{"x":{"field":"c","type":"quantitative","scale":{"domain":[-13.418,28.672],"nice":false,"zero":false},"axis":null},"y":{"datum":-6,"type":"quantitative","scale":{"domain":[-11.443,3.528],"nice":false,"zero":false},"axis":null},"y2":{"datum":2}}},
{"data":{"name":"hg"},"mark":{"type":"rule","color":"#ebebeb","strokeWidth":0.6},"encoding":{"y":{"field":"v","type":"quantitative","scale":{"domain":[-11.443,3.528],"nice":false,"zero":false},"axis":null},"x":{"datum":-0.8,"type":"quantitative","scale":{"domain":[-13.418,28.672],"nice":false,"zero":false},"axis":null},"x2":{"datum":28.6}}},
{"data":{"name":"ic"},"mark":{"type":"rule","color":"#bdbdbd","strokeWidth":4.5},"encoding":{"x":{"field":"c","type":"quantitative","scale":{"domain":[-13.418,28.672],"nice":false,"zero":false},"axis":null},"y":{"field":"gm","type":"quantitative","scale":{"domain":[-11.443,3.528],"nice":false,"zero":false},"axis":null},"y2":{"field":"gt"}}},
{"data":{"name":"ic"},"mark":{"type":"rule","color":"#bdbdbd","strokeWidth":4.5},"encoding":{"x":{"field":"c","type":"quantitative","scale":{"domain":[-13.418,28.672],"nice":false,"zero":false},"axis":null},"y":{"field":"gb","type":"quantitative","scale":{"domain":[-11.443,3.528],"nice":false,"zero":false},"axis":null},"y2":{"field":"gn"}}},
{"data":{"name":"ic"},"mark":{"type":"rule","color":"#f03030","opacity":0.85,"strokeWidth":4.5},"encoding":{"x":{"field":"c","type":"quantitative","scale":{"domain":[-13.418,28.672],"nice":false,"zero":false},"axis":null},"y":{"field":"gt","type":"quantitative","scale":{"domain":[-11.443,3.528],"nice":false,"zero":false},"axis":null},"y2":{"field":"rt"}}},
{"data":{"name":"ic"},"mark":{"type":"rule","color":"#f03030","opacity":0.85,"strokeWidth":4.5},"encoding":{"x":{"field":"c","type":"quantitative","scale":{"domain":[-13.418,28.672],"nice":false,"zero":false},"axis":null},"y":{"field":"rb","type":"quantitative","scale":{"domain":[-11.443,3.528],"nice":false,"zero":false},"axis":null},"y2":{"field":"gb"}}},
{"data":{"name":"oc"},"mark":{"type":"circle","size":5,"opacity":0.85},"encoding":{"x":{"field":"c","type":"quantitative","scale":{"domain":[-13.418,28.672],"nice":false,"zero":false},"axis":null},"y":{"field":"v","type":"quantitative","scale":{"domain":[-11.443,3.528],"nice":false,"zero":false},"axis":null},"color":{"field":"s","type":"nominal","scale":{"domain":["sig","ns"],"range":["#f03030","#bdbdbd"]},"legend":null}}},
{"data":{"values":[{"t":"Alive vs Deceased COVID-19 Day 0"}]},"mark":{"type":"text","fontSize":10.5,"color":"#111111","align":"center","baseline":"middle"},"encoding":{"x":{"datum":13.9,"type":"quantitative","scale":{"domain":[-13.418,28.672],"nice":false,"zero":false},"axis":null},"y":{"datum":3.6,"type":"quantitative","scale":{"domain":[-11.443,3.528],"nice":false,"zero":false},"axis":null},"text":{"field":"t"}}},
{"data":{"values":[{"t":"log2FC"}]},"mark":{"type":"text","fontSize":12,"angle":270,"color":"#111111","align":"center","baseline":"middle"},"encoding":{"x":{"datum":-1.97,"type":"quantitative","scale":{"domain":[-13.418,28.672],"nice":false,"zero":false},"axis":null},"y":{"datum":-1.58,"type":"quantitative","scale":{"domain":[-11.443,3.528],"nice":false,"zero":false},"axis":null},"text":{"field":"t"}}},
{"data":{"values":[{"t":"c"}]},"mark":{"type":"text","fontSize":25,"font":"Open Sans","color":"#111111","align":"center","baseline":"alphabetic"},"encoding":{"x":{"datum":-18.39,"type":"quantitative","scale":{"domain":[-13.418,28.672],"nice":false,"zero":false},"axis":null},"y":{"datum":2.0,"type":"quantitative","scale":{"domain":[-11.443,3.528],"nice":false,"zero":false},"axis":null},"text":{"field":"t"}}}
]}
]},
{"width":283,"height":158.7,"resolve":{"scale":{"x":"independent","y":"independent","color":"independent"}},
"layer":[
{"data":{"name":"bd"},"mark":{"type":"bar","stroke":"white","strokeWidth":0.5,"strokeOpacity":0.7},
"encoding":{
"x":{"field":"cell","type":"nominal","title":null,"scale":{"domain":["B naive","B intermediate","MAIT","NK Proliferating","Plasmablast","CD4 Proliferating","cDC2","B memory","CD8 Naive","HSPC","CD16 Mono","CD8 TCM","NK_CD56bright","Platelets","NK","pDC","CD4 TCM","CD8 TEM","CD4 Naive","CD4 TEM","gdT","dnT","CD14 Mono","Treg","cDC1","CD4 CTL","CD8 Proliferating","ILC","ASDC"],"paddingInner":0.1,"paddingOuter":0.15}},
"y":{"field":"n","type":"quantitative","stack":"zero","title":"Number of Genes","scale":{"domain":[-1.75,36.75],"nice":false,"zero":false},"axis":{"values":[0,10,20,30]}},
"color":{"field":"g","type":"nominal","scale":{"domain":["Alive Day 7","Deceased Day 7"],"range":["#c0282d","#2a3a7c"]},"legend":{"title":null,"orient":"none","legendX":295.5,"legendY":73.2,"labelFontSize":7.6}},
"order":{"field":"g","sort":"descending"}}},
{"layer":[
{"data":{"name":"id"},"mark":{"type":"rule","color":"#ebebeb","strokeWidth":0.6},"encoding":{"x":{"field":"c","type":"quantitative","scale":{"domain":[-12.859,29.067],"nice":false,"zero":false},"axis":null},"y":{"datum":-6,"type":"quantitative","scale":{"domain":[-11.971,3.588],"nice":false,"zero":false},"axis":null},"y2":{"datum":2}}},
{"data":{"name":"hg"},"mark":{"type":"rule","color":"#ebebeb","strokeWidth":0.6},"encoding":{"y":{"field":"v","type":"quantitative","scale":{"domain":[-11.971,3.588],"nice":false,"zero":false},"axis":null},"x":{"datum":-0.8,"type":"quantitative","scale":{"domain":[-12.859,29.067],"nice":false,"zero":false},"axis":null},"x2":{"datum":28.6}}},
{"data":{"name":"id"},"mark":{"type":"rule","color":"#bdbdbd","strokeWidth":4.5},"encoding":{"x":{"field":"c","type":"quantitative","scale":{"domain":[-12.859,29.067],"nice":false,"zero":false},"axis":null},"y":{"field":"gm","type":"quantitative","scale":{"domain":[-11.971,3.588],"nice":false,"zero":false},"axis":null},"y2":{"field":"gt"}}},
{"data":{"name":"id"},"mark":{"type":"rule","color":"#bdbdbd","strokeWidth":4.5},"encoding":{"x":{"field":"c","type":"quantitative","scale":{"domain":[-12.859,29.067],"nice":false,"zero":false},"axis":null},"y":{"field":"gb","type":"quantitative","scale":{"domain":[-11.971,3.588],"nice":false,"zero":false},"axis":null},"y2":{"field":"gn"}}},
{"data":{"name":"id"},"mark":{"type":"rule","color":"#f03030","opacity":0.85,"strokeWidth":4.5},"encoding":{"x":{"field":"c","type":"quantitative","scale":{"domain":[-12.859,29.067],"nice":false,"zero":false},"axis":null},"y":{"field":"gt","type":"quantitative","scale":{"domain":[-11.971,3.588],"nice":false,"zero":false},"axis":null},"y2":{"field":"rt"}}},
{"data":{"name":"id"},"mark":{"type":"rule","color":"#f03030","opacity":0.85,"strokeWidth":4.5},"encoding":{"x":{"field":"c","type":"quantitative","scale":{"domain":[-12.859,29.067],"nice":false,"zero":false},"axis":null},"y":{"field":"rb","type":"quantitative","scale":{"domain":[-11.971,3.588],"nice":false,"zero":false},"axis":null},"y2":{"field":"gb"}}},
{"data":{"name":"od"},"mark":{"type":"circle","size":5,"opacity":0.85},"encoding":{"x":{"field":"c","type":"quantitative","scale":{"domain":[-12.859,29.067],"nice":false,"zero":false},"axis":null},"y":{"field":"v","type":"quantitative","scale":{"domain":[-11.971,3.588],"nice":false,"zero":false},"axis":null},"color":{"field":"s","type":"nominal","scale":{"domain":["sig","ns"],"range":["#f03030","#bdbdbd"]},"legend":null}}},
{"data":{"values":[{"t":"Alive vs Deceased COVID-19 Day 7"}]},"mark":{"type":"text","fontSize":10.5,"color":"#111111","align":"center","baseline":"middle"},"encoding":{"x":{"datum":13.84,"type":"quantitative","scale":{"domain":[-12.859,29.067],"nice":false,"zero":false},"axis":null},"y":{"datum":3.4,"type":"quantitative","scale":{"domain":[-11.971,3.588],"nice":false,"zero":false},"axis":null},"text":{"field":"t"}}},
{"data":{"values":[{"t":"log2FC"}]},"mark":{"type":"text","fontSize":12,"angle":270,"color":"#111111","align":"center","baseline":"middle"},"encoding":{"x":{"datum":-1.72,"type":"quantitative","scale":{"domain":[-12.859,29.067],"nice":false,"zero":false},"axis":null},"y":{"datum":-1.82,"type":"quantitative","scale":{"domain":[-11.971,3.588],"nice":false,"zero":false},"axis":null},"text":{"field":"t"}}},
{"data":{"values":[{"t":"d"}]},"mark":{"type":"text","fontSize":25,"font":"Open Sans","color":"#111111","align":"center","baseline":"alphabetic"},"encoding":{"x":{"datum":-17.6,"type":"quantitative","scale":{"domain":[-12.859,29.067],"nice":false,"zero":false},"axis":null},"y":{"datum":2.2,"type":"quantitative","scale":{"domain":[-11.971,3.588],"nice":false,"zero":false},"axis":null},"text":{"field":"t"}}}
]}
]}
],
"config":{
"view":{"stroke":null},
"font":"Liberation Sans",
"axis":{"grid":false,"domainColor":"#1a1a1a","domainWidth":0.8,"tickColor":"#333333","tickWidth":0.6,"tickSize":2.5,"labelColor":"#4d4d4d","labelPadding":1,"labelFont":"Liberation Sans","titleFont":"Liberation Sans","titleFontWeight":"normal","titleFontSize":10.5,"titleColor":"#111111"},
"axisX":{"labelAngle":270,"labelFontSize":6.6,"labelLimit":200,"labelOverlap":false},
"axisY":{"labelFontSize":6,"titlePadding":4},
"legend":{"labelFont":"Liberation Sans","labelFontSize":8,"labelColor":"#111111","symbolType":"square","symbolSize":125,"symbolStrokeColor":"#ffffff","symbolStrokeWidth":0.5,"symbolOpacity":1,"labelOffset":2.5,"rowPadding":2,"padding":0,"labelLimit":200}
}
}
